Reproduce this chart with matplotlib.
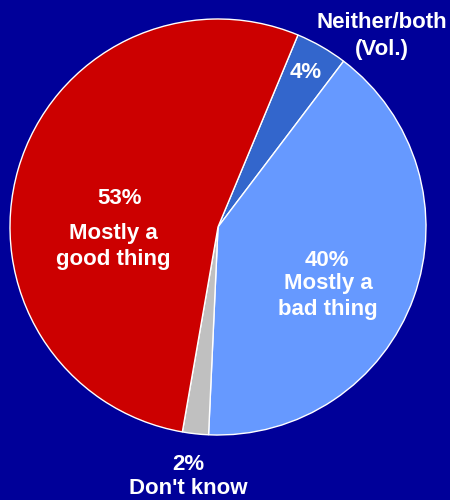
import matplotlib.pyplot as plt

# slice data, clockwise from the top
labels = ["Neither/both (Vol.)", "Mostly a bad thing", "Don't know", "Mostly a good thing"]
values = [4, 40, 2, 53]
colors = ["#3366CC", "#6699FF", "#C0C0C0", "#CC0000"]

bg = "#000099"
W, H = 450, 500
cx, cy, r = 218, 227, 208

fig = plt.figure(figsize=(W / 100, H / 100), dpi=100, facecolor=bg)
ax = fig.add_axes([(cx - r) / W, (H - cy - r) / H, 2 * r / W, 2 * r / H])
ax.set_facecolor(bg)

ax.pie(values, colors=colors, startangle=67.4, counterclock=False,
       radius=1.0, wedgeprops=dict(edgecolor="white", linewidth=1.0))
ax.set_xlim(-1, 1)
ax.set_ylim(-1, 1)
ax.set_axis_off()

font = dict(color="white", fontweight="bold", fontsize=16,
            family=["Liberation Sans", "DejaVu Sans"], ha="center", va="center")

def label(px, py, s):
    fig.text(px / W, 1 - py / H, s, **font)

# text positions in pixels (x, y from top)
label(120, 199, "53%")
label(113, 233, "Mostly a")
label(113, 259, "good thing")

label(327, 260, "40%")
label(328, 284, "Mostly a")
label(328, 309, "bad thing")

label(306, 72, "4%")
label(382, 22, "Neither/both")
label(382, 49, "(Vol.)")

label(188, 465, "2%")
label(188, 489, "Don't know")

fig.savefig("out.png", dpi=100, facecolor=bg)
